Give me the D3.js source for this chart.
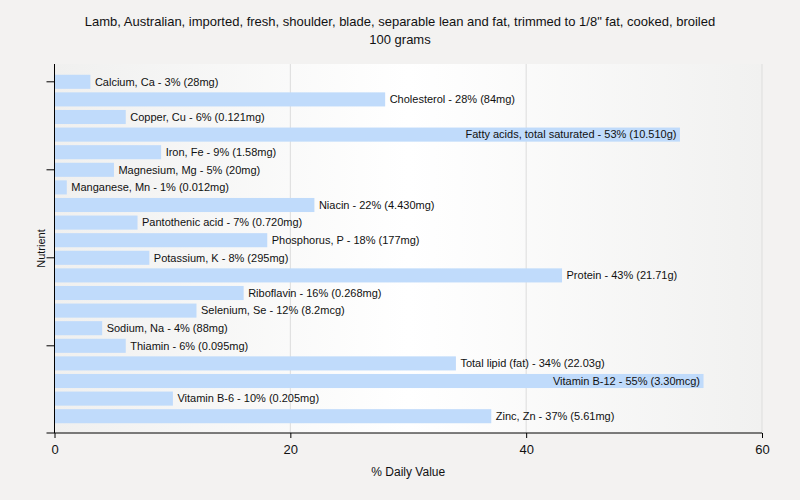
<!DOCTYPE html>
<html>
<head>
<meta charset="utf-8">
<script src="https://cdn.jsdelivr.net/npm/d3@7"></script>
<style>
  body { margin: 0; background: #f3f2f1; }
  text { font-family: "Liberation Sans", Arial, sans-serif; fill: #111; }
</style>
</head>
<body>
<div id="chart"></div>
<script>
// nutrient rows, top to bottom
const nutrients = [
    'Calcium, Ca', 'Cholesterol', 'Copper, Cu', 'Fatty acids, total saturated',
    'Iron, Fe', 'Magnesium, Mg', 'Manganese, Mn', 'Niacin', 'Pantothenic acid',
    'Phosphorus, P', 'Potassium, K', 'Protein', 'Riboflavin', 'Selenium, Se',
    'Sodium, Na', 'Thiamin', 'Total lipid (fat)', 'Vitamin B-12', 'Vitamin B-6', 'Zinc, Zn'
];
const dailyValue = [3, 28, 6, 53, 9, 5, 1, 22, 7, 18, 8, 43, 16, 12, 4, 6, 34, 55, 10, 37];
const amounts = [
    '28mg', '84mg', '0.121mg', '10.510g', '1.58mg', '20mg', '0.012mg', '4.430mg', '0.720mg',
    '177mg', '295mg', '21.71g', '0.268mg', '8.2mcg', '88mg', '0.095mg', '22.03g', '3.30mcg',
    '0.205mg', '5.61mg'
];
const xTicks = [0, 20, 40, 60];

const width = 800, height = 500;
const margin = {top: 64, right: 38, bottom: 67, left: 54.5};

const svg = d3.select('#chart').append('svg')
    .attr('width', width)
    .attr('height', height);

svg.append('rect')
    .attr('width', width).attr('height', height)
    .attr('fill', '#f3f2f1');

const grad = svg.append('defs').append('linearGradient')
    .attr('id', 'bg').attr('x1', '0%').attr('x2', '100%');
grad.append('stop').attr('offset', '0%').attr('stop-color', '#f0f0ef');
grad.append('stop').attr('offset', '50%').attr('stop-color', '#ffffff');
grad.append('stop').attr('offset', '100%').attr('stop-color', '#f1f1f0');

const x = d3.scaleLinear()
    .domain([0, 60])
    .range([margin.left, width - margin.right]);
const y = d3.scaleBand()
    .domain(nutrients)
    .range([margin.top + 9, height - margin.bottom - 8])
    .paddingInner(0.2)
    .paddingOuter(0.1);

svg.append('rect')
    .attr('x', margin.left).attr('y', margin.top)
    .attr('width', x(60) - margin.left)
    .attr('height', height - margin.bottom - margin.top)
    .attr('fill', 'url(#bg)');

// vertical grid
svg.append('g').selectAll('line')
    .data(xTicks.slice(1))
    .join('line')
    .attr('x1', d => x(d)).attr('x2', d => x(d))
    .attr('y1', margin.top).attr('y2', height - margin.bottom)
    .attr('stroke', '#dddddd');

const rows = nutrients.map((n, i) => ({name: n, value: dailyValue[i], amount: amounts[i]}));

svg.append('g').selectAll('rect')
    .data(rows)
    .join('rect')
    .attr('x', x(0) + 0.5)
    .attr('y', d => y(d.name))
    .attr('width', d => x(d.value) - x(0))
    .attr('height', y.bandwidth())
    .attr('fill', '#c0dbfb');

svg.append('g').selectAll('text')
    .data(rows)
    .join('text')
    .attr('y', d => y(d.name) + y.bandwidth() / 2)
    .attr('dy', '0.35em')
    .attr('font-size', 11)
    .text(d => `${d.name} - ${d.value}% (${d.amount})`)
    .each(function(d) {
        const w = this.getComputedTextLength();
        const end = x(d.value);
        if (end + 5 + w > x(60)) {
            d3.select(this).attr('x', end - 3).attr('text-anchor', 'end');
        } else {
            d3.select(this).attr('x', end + 5);
        }
    });

// x axis
const xAxis = svg.append('g')
    .attr('transform', `translate(0,${height - margin.bottom})`)
    .call(d3.axisBottom(x).tickValues(xTicks).tickSize(5).tickSizeOuter(0));
xAxis.select('.domain').remove();
xAxis.append('line')
    .attr('x1', margin.left - 8).attr('x2', x(60))
    .attr('stroke', '#000');
xAxis.selectAll('text').attr('font-size', 13).attr('dy', '1em')
    .style('font-family', '"Liberation Sans", Arial, sans-serif').attr('fill', '#111');

// y axis: line with ticks every fifth row
const yAxis = svg.append('g');
yAxis.append('line')
    .attr('x1', margin.left).attr('x2', margin.left)
    .attr('y1', margin.top).attr('y2', height - margin.bottom)
    .attr('stroke', '#000');
yAxis.selectAll('.tk')
    .data(nutrients.filter((d, i) => i % 5 === 0))
    .join('line')
    .attr('class', 'tk')
    .attr('x1', margin.left - 8).attr('x2', margin.left)
    .attr('y1', d => y(d) + y.bandwidth() / 2)
    .attr('y2', d => y(d) + y.bandwidth() / 2)
    .attr('stroke', '#000');

svg.append('text')
    .attr('x', x(30)).attr('y', 476)
    .attr('text-anchor', 'middle').attr('font-size', 12)
    .text('% Daily Value');

svg.append('text')
    .attr('transform', `translate(45,${(margin.top + height - margin.bottom) / 2}) rotate(-90)`)
    .attr('text-anchor', 'middle').attr('font-size', 11)
    .text('Nutrient');

const title = svg.append('text')
    .attr('x', width / 2).attr('text-anchor', 'middle').attr('font-size', 13);
title.append('tspan').attr('x', width / 2).attr('y', 26)
    .text('Lamb, Australian, imported, fresh, shoulder, blade, separable lean and fat, trimmed to 1/8" fat, cooked, broiled');
title.append('tspan').attr('x', width / 2).attr('y', 44)
    .text('100 grams');
</script>
</body>
</html>
